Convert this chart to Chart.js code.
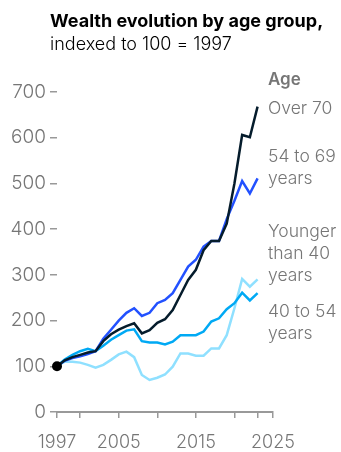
<!DOCTYPE html>
<html lang="en">
  <head>
    <meta charset="UTF-8" />
    <title>Wealth evolution by age group</title>
    <script src="https://cdn.jsdelivr.net/npm/chart.js@4.4.0/dist/chart.umd.min.js"></script>
    <style>
      html, body { margin: 0; padding: 0; background: #fff; }
      #wrap { width: 341px; height: 452px; position: relative; }
    </style>
  </head>
  <body>
    <div id="wrap"><canvas id="myChart"></canvas></div>

    <script>
      // yearly index values, 1997 = 100
      const years = [1997, 1998, 1999, 2000, 2001, 2002, 2003, 2004, 2005, 2006, 2007, 2008, 2009,
        2010, 2011, 2012, 2013, 2014, 2015, 2016, 2017, 2018, 2019, 2020, 2021, 2022, 2023];
      const over70 = [100, 113, 120, 125, 130, 133, 155, 170, 180, 188, 194, 172, 179,
        195, 203, 223, 256, 289, 311, 354, 374, 374, 412, 500, 606, 601, 668];
      const age54to69 = [100, 112, 118, 122, 127, 133, 160, 180, 200, 217, 227, 210, 217,
        238, 245, 260, 289, 318, 333, 362, 374, 374, 422, 462, 505, 478, 511];
      const age40to54 = [100, 115, 125, 133, 138, 133, 145, 158, 168, 178, 181, 155, 152,
        152, 148, 154, 168, 168, 168, 176, 198, 205, 225, 238, 261, 244, 260];
      const under40 = [100, 110, 110, 108, 103, 97, 103, 114, 126, 132, 120, 81, 70,
        75, 82, 99, 128, 128, 123, 123, 139, 139, 168, 227, 291, 274, 290];

      const xTicks = [1997, 2000, 2005, 2010, 2015, 2020, 2023, 2025];
      const xLabels = [1997, 2005, 2015, 2025];

      const FONT = 'Inter, "Liberation Sans", Arial, sans-serif';
      const GREY = '#767676';

      const pts = vals => vals.map((v, i) => ({ x: years[i], y: v }));

      function line(label, vals, color, order) {
        return {
          label: label,
          data: pts(vals),
          borderColor: color,
          borderWidth: 2.5,
          pointRadius: 0,
          tension: 0,
          fill: false,
          order: order
        };
      }

      // title, subtitle and the series names at the right end
      const textPlugin = {
        id: 'texts',
        afterDraw(chart) {
          const ctx = chart.ctx;
          const a = chart.chartArea;
          ctx.save();
          ctx.textAlign = 'left';
          ctx.textBaseline = 'alphabetic';
          ctx.fillStyle = '#000';
          ctx.font = '700 18px ' + FONT;
          ctx.fillText('Wealth evolution by age group,', 50, 27);
          ctx.font = '300 18px ' + FONT;
          ctx.fillText('indexed to 100 = 1997', 50, 50);

          const x = a.right - 5;
          ctx.fillStyle = GREY;
          ctx.font = '600 17px ' + FONT;
          ctx.fillText('Age', x, 85);
          ctx.font = '300 17.5px ' + FONT;
          const names = [
            [['Over 70'], 114],
            [['54 to 69', 'years'], 162],
            [['Younger', 'than 40', 'years'], 237],
            [['40 to 54', 'years'], 317]
          ];
          names.forEach(([rows, y0]) => {
            rows.forEach((r, i) => ctx.fillText(r, x, y0 + i * 22));
          });
          ctx.restore();
        }
      };

      const ctx = document.getElementById('myChart').getContext('2d');
      const myChart = new Chart(ctx, {
        type: 'line',
        data: {
          datasets: [
            {
              label: 'start',
              data: [{ x: years[0], y: over70[0] }],
              pointRadius: 5,
              pointBackgroundColor: '#000',
              pointBorderWidth: 0,
              showLine: false,
              clip: false,
              order: 0
            },
            line('Over 70', over70, '#051c2c', 1),
            line('54 to 69 years', age54to69, '#2251ff', 2),
            line('40 to 54 years', age40to54, '#00a9f4', 3),
            line('Younger than 40 years', under40, '#8fe0ff', 4)
          ]
        },
        options: {
          responsive: true,
          maintainAspectRatio: false,
          animation: false,
          layout: { padding: { top: 92, right: 68, bottom: 0, left: 0 } },
          plugins: {
            legend: { display: false },
            tooltip: { enabled: false },
            title: { display: false }
          },
          scales: {
            x: {
              type: 'linear',
              min: 1997,
              max: 2025,
              afterBuildTicks: s => { s.ticks = xTicks.map(v => ({ value: v })); },
              afterFit: s => { s.height = 40; },
              ticks: {
                autoSkip: false,
                maxRotation: 0,
                padding: 14,
                color: GREY,
                font: { family: FONT, size: 18, weight: 300 },
                callback: v => (xLabels.includes(v) ? String(v) : '')
              },
              grid: { drawOnChartArea: false, tickLength: 6, color: '#999', lineWidth: 1.5 },
              border: { display: true, color: '#999', width: 2 }
            },
            y: {
              min: 0,
              max: 700,
              afterFit: s => { s.width = 57; },
              ticks: {
                stepSize: 100,
                padding: 4,
                color: GREY,
                font: { family: FONT, size: 19, weight: 300 }
              },
              grid: { drawOnChartArea: false, tickLength: 7, color: '#999', lineWidth: 1.5 },
              border: { display: false }
            }
          }
        },
        plugins: [textPlugin]
      });
    </script>
  </body>
</html>
